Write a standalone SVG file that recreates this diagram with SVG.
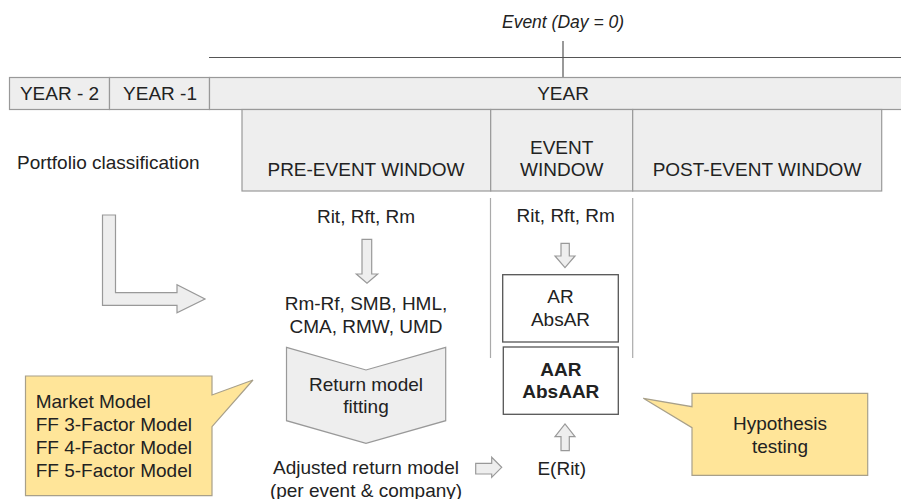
<svg xmlns="http://www.w3.org/2000/svg" width="901" height="499" viewBox="0 0 901 499">
<style>
text{font-family:"Liberation Sans",Arial,sans-serif;font-size:19px;fill:#222}
.c{text-anchor:middle}
.bar{fill:#eeeeee;stroke:#999;stroke-width:1.2}
.arr{fill:#eeeeee;stroke:#999;stroke-width:1.2}
.box{fill:#fff;stroke:#555;stroke-width:1.3}
.call{fill:#ffe599;stroke:#a8a08a;stroke-width:1.2}
.ln{stroke:#555;stroke-width:1.2;fill:none}
.vl{stroke:#aaa;stroke-width:1.2;fill:none}
</style>
<rect width="901" height="499" fill="#fff"/>
<g id="timeline">
<line class="ln" x1="209" y1="57.5" x2="901" y2="57.5"/>
<line class="ln" x1="563" y1="41" x2="563" y2="77.5"/>
<text x="563" y="28" class="c" style="font-style:italic;font-size:17.5px">Event (Day = 0)</text>
</g>
<g id="year-2"><rect class="bar" x="9.5" y="77.5" width="100" height="32"/><text x="59.5" y="100" class="c">YEAR - 2</text></g>
<g id="year-1"><rect class="bar" x="109.5" y="77.5" width="100" height="32"/><text x="160" y="100" class="c">YEAR -1</text></g>
<g id="year"><rect class="bar" x="209.5" y="77.5" width="700" height="32"/><text x="563" y="100" class="c">YEAR</text></g>
<g id="pre-event"><rect class="bar" x="242" y="109.5" width="248.7" height="81.5"/><text x="366" y="176" class="c">PRE-EVENT WINDOW</text></g>
<g id="event-window"><rect class="bar" x="490.7" y="109.5" width="142" height="81.5"/><text x="561.7" y="154" class="c">EVENT</text><text x="561.7" y="176" class="c">WINDOW</text></g>
<g id="post-event"><rect class="bar" x="632.7" y="109.5" width="249" height="81.5"/><text x="757" y="176" class="c">POST-EVENT WINDOW</text></g>
<g id="portfolio"><text x="17" y="168.5">Portfolio classification</text></g>
<g id="rit-pre"><text x="366" y="222.5" class="c">Rit, Rft, Rm</text></g>
<g id="factors"><text x="366" y="310" class="c">Rm-Rf, SMB, HML,</text><text x="366" y="332.7" class="c">CMA, RMW, UMD</text></g>
<g id="fitting"><polygon class="arr" points="286.5,347.3 366,370 445.7,347.3 445.7,420.7 366,443.3 286.5,420.7"/><text x="366" y="390.7" class="c">Return model</text><text x="366" y="413.3" class="c">fitting</text></g>
<g id="models"><path class="call" d="M25.5,376 H212 V395 L253,380 L212,426.7 V495.7 H25.5 Z"/><text x="35.7" y="408">Market Model</text><text x="35.7" y="431">FF 3-Factor Model</text><text x="35.7" y="454">FF 4-Factor Model</text><text x="35.7" y="477">FF 5-Factor Model</text></g>
<g id="adjusted"><text x="366" y="474" class="c">Adjusted return model</text><text x="366" y="497" class="c">(per event &amp; company)</text></g>
<g id="rit-event"><text x="565.7" y="221.7" class="c">Rit, Rft, Rm</text></g>
<g id="ar"><rect class="box" x="502.7" y="274.7" width="115.6" height="67.3"/><text x="560.5" y="303.3" class="c">AR</text><text x="560.5" y="326" class="c">AbsAR</text></g>
<g id="aar"><rect class="box" x="503.3" y="347" width="115" height="67.3"/><text x="560.8" y="375.7" class="c" font-weight="bold">AAR</text><text x="560.8" y="398.3" class="c" font-weight="bold">AbsAAR</text></g>
<g id="erit"><text x="561.7" y="475" class="c">E(Rit)</text></g>
<g id="hypothesis"><path class="call" d="M692,393.3 H867.7 V475.3 H692 V427.7 L643.3,398.3 L692,406.7 Z"/><text x="780" y="430" class="c">Hypothesis</text><text x="780" y="452.7" class="c">testing</text></g>
<g id="connectors">
<line class="vl" x1="490.5" y1="198" x2="490.5" y2="358"/>
<line class="vl" x1="632.7" y1="198" x2="632.7" y2="358"/>
<polygon class="arr" points="102.5,215 115.5,215 115.5,292.7 177,292.7 177,284.7 205,299 177,312.7 177,305.3 102.5,305.3"/>
<polygon class="arr" points="362,239.3 371.7,239.3 371.7,274 377.7,274 367,283.3 356.3,274 362,274"/>
<polygon class="arr" points="561,243.3 569.3,243.3 569.3,256 575,256 565,267.7 555,256 561,256"/>
<polygon class="arr" points="561,450.7 569.3,450.7 569.3,436.7 575,436.7 565,424 555,436.7 561,436.7"/>
<polygon class="arr" points="475.7,463.3 491.7,463.3 491.7,457.3 501.7,467.3 491.7,477.3 491.7,474 475.7,474"/>
</g>
</svg>
